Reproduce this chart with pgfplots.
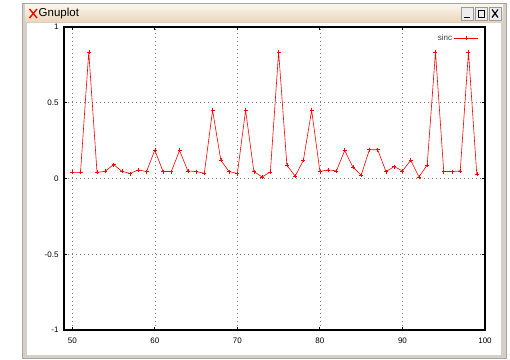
\documentclass[border=0pt]{standalone}
\usepackage{pgfplots}
\pgfplotsset{compat=1.18}
\usepackage{fontspec}
\setmainfont{Liberation Sans}
\definecolor{winframe}{RGB}{212,208,200}
\definecolor{titletop}{RGB}{250,245,236}
\definecolor{titlebot}{RGB}{234,214,186}
\definecolor{gridgray}{RGB}{120,120,120}
\begin{document}
\begin{tikzpicture}[x=1pt,y=1pt]
% canvas
\path[use as bounding box] (0,0) rectangle (510,359);
\fill[white] (0,0) rectangle (510,359);
% window frame
\fill[winframe] (22,1) rectangle (506,356);
\draw[gray!70,line width=0.6pt] (22,1) rectangle (506,356);
\shade[top color=titletop,bottom color=titlebot] (25,337) rectangle (503,354);
\fill[white] (27,4) rectangle (501,336);
\draw[red,line width=1.4pt] (29.5,341) -- (37,350) (29.5,350) -- (37,341);
\node[anchor=west,font=\fontsize{11.5}{13}\selectfont,inner sep=0pt] at (38.5,345.5) {Gnuplot};
% buttons
\foreach \bx in {461,475,489}{
  \fill[white!93!black] (\bx,339) rectangle (\bx+12,352);
  \draw[gray!80,line width=0.4pt] (\bx,339) rectangle (\bx+12,352);
}
\draw[line width=1.2pt] (464,341.5) -- (470,341.5);
\draw[line width=0.9pt] (478,341.5) rectangle (484,349);
\draw[line width=1.2pt] (492,341.5) -- (498,349.5) (492,349.5) -- (498,341.5);
\begin{axis}[
  at={(64pt,29pt)}, anchor=south west,
  scale only axis, width=421pt, height=303pt,
  xmin=49, xmax=100, ymin=-1, ymax=1,
  xtick={50,60,70,80,90,100},
  ytick={-1,-0.5,0,0.5,1},
  yticklabels={-1,-0.5,0,0.5,1},
  axis line style={line width=1.3pt},
  tick style={black,line width=0.9pt},
  tick align=inside,
  major tick length=3pt,
  xmajorgrids, ymajorgrids,
  major grid style={gridgray,line width=0.6pt,dash pattern=on 0.7pt off 3.3pt},
  tick label style={font=\fontsize{8}{9}\selectfont},
  /pgf/number format/assume math mode=true,
  xticklabel style={yshift=-4pt},
  yticklabel style={xshift=-2pt},
  legend style={at={(0.988,0.985)},anchor=north east,draw=none,fill=none,
    font=\fontsize{8}{9}\selectfont,inner sep=1pt,text=black!75},
  legend plot pos=right,
  legend image code/.code={\draw[#1] (4pt,0pt) -- (28pt,0pt); \draw[#1,only marks] plot coordinates {(16pt,0pt)};},
]
\addplot[red, line width=0.6pt, mark=+, mark size=2pt, mark options={line width=0.5pt}] coordinates {
(50,0.04)(51,0.04)(52,0.836)(53,0.04)(54,0.048)(55,0.092)(56,0.048)(57,0.033)(58,0.057)(59,0.046)
(60,0.187)(61,0.046)(62,0.046)(63,0.185)(64,0.05)(65,0.046)(66,0.035)(67,0.45)(68,0.12)(69,0.046)
(70,0.033)(71,0.45)(72,0.046)(73,0.01)(74,0.044)(75,0.836)(76,0.088)(77,0.015)(78,0.12)(79,0.45)
(80,0.046)(81,0.057)(82,0.05)(83,0.185)(84,0.075)(85,0.022)(86,0.19)(87,0.19)(88,0.046)(89,0.079)
(90,0.05)(91,0.12)(92,0.01)(93,0.09)(94,0.836)(95,0.046)(96,0.046)(97,0.05)(98,0.836)(99,0.03)
};
\addlegendentry{sinc}
\end{axis}
\end{tikzpicture}
\end{document}
